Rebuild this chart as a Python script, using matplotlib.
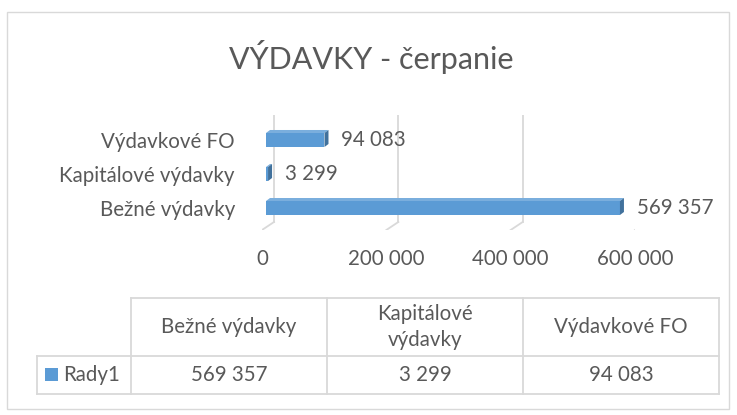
import matplotlib
matplotlib.use("Agg")
import matplotlib.pyplot as plt
from matplotlib.patches import Polygon, Rectangle

plt.rcParams['font.family'] = ['Lato', 'DejaVu Sans']

# ---------------------------
# data
# ---------------------------
title = "VÝDAVKY - čerpanie"
categories = ["Bežné výdavky", "Kapitálové výdavky", "Výdavkové FO"]
table_headers = ["Bežné výdavky", "Kapitálové\nvýdavky", "Výdavkové FO"]
values = [569357, 3299, 94083]
series_name = "Rady1"
xticks = [0, 200000, 400000, 600000]


def fmt(v):
    return f"{v:,}".replace(",", " ")


W, H = 737, 415
fig = plt.figure(figsize=(W / 100, H / 100), dpi=100)
fig.patch.set_facecolor("white")

bar_col = "#5B9BD5"
side_col = "#41719C"
top_col = "#7AAEDD"
text_col = "#595959"
grid_col = "#D9D9D9"
fs = 14.8

# ---------------------------
# bar chart (pseudo 3D, like Excel)
# ---------------------------
ax_l, ax_r, ax_t, ax_b = 262, 635, 115, 230
ax = fig.add_axes([ax_l / W, (H - ax_b) / H, (ax_r - ax_l) / W, (ax_b - ax_t) / H])
xmax = 600000
ppx = xmax / (ax_r - ax_l)          # data units per pixel (x)
ys = list(range(len(categories)))
ylo, yhi = -0.647, 2.735
ax.set_xlim(0, xmax)
ax.set_ylim(ylo, yhi)
ppy = (yhi - ylo) / (ax_b - ax_t)   # data units per pixel (y)

# back wall / floor gridlines
back_dx, back_dy = 12 * ppx, 8 * ppy
for t in xticks:
    ax.plot([t, t + back_dx], [ylo, ylo + back_dy], color=grid_col, lw=1.3, zorder=0)
    ax.plot([t + back_dx, t + back_dx], [ylo + back_dy, yhi], color=grid_col,
            lw=1.3, zorder=0)

bh = 14 * ppy
off = 4 * ppx
dx, dy = 4 * ppx, 3 * ppy
for y, v in zip(ys, values):
    x0, x1 = off, off + v
    ax.add_patch(Rectangle((x0, y - bh / 2), v, bh, facecolor=bar_col,
                           edgecolor="none", zorder=3))
    ax.add_patch(Polygon([(x0, y + bh / 2), (x1, y + bh / 2),
                          (x1 + dx, y + bh / 2 + dy), (x0 + dx, y + bh / 2 + dy)],
                         closed=True, facecolor=top_col, edgecolor="none", zorder=3))
    ax.add_patch(Polygon([(x1, y - bh / 2), (x1 + dx, y - bh / 2 + dy),
                          (x1 + dx, y + bh / 2 + dy), (x1, y + bh / 2)],
                         closed=True, facecolor=side_col, edgecolor="none", zorder=3))
    ax.text(x1 + 17 * ppx, y, fmt(v), va="center", ha="left",
            fontsize=fs, color=text_col)

ax.set_yticks(ys)
ax.set_yticklabels(categories, fontsize=fs, color=text_col)
ax.set_xticks(xticks)
ax.set_xticklabels([fmt(t) for t in xticks], fontsize=fs, color=text_col)
ax.tick_params(axis="both", length=0)
ax.tick_params(axis="x", pad=14)
ax.tick_params(axis="y", pad=19.5)
for s in ax.spines.values():
    s.set_visible(False)

# ---------------------------
# overlay: frame, title, data table
# ---------------------------
ov = fig.add_axes([0, 0, 1, 1], zorder=-1)
ov.set_xlim(0, W)
ov.set_ylim(H, 0)
ov.axis("off")

ov.add_patch(Rectangle((7, 12), 722, 397, facecolor="none",
                       edgecolor="#D9D9D9", linewidth=1))

ov.text(371, 57, title, ha="center", va="center", fontsize=22, color=text_col)

col_x = [37, 131, 327, 523, 719]
row_y = [298, 356, 394]
lc = "#D9D9D9"
lw = 1.3
ov.plot([col_x[1], col_x[-1]], [row_y[0], row_y[0]], color=lc, lw=lw)
ov.plot([col_x[0], col_x[-1]], [row_y[1], row_y[1]], color=lc, lw=lw)
ov.plot([col_x[0], col_x[-1]], [row_y[2], row_y[2]], color=lc, lw=lw)
ov.plot([col_x[0], col_x[0]], [row_y[1], row_y[2]], color=lc, lw=lw)
for x in col_x[1:]:
    ov.plot([x, x], [row_y[0], row_y[2]], color=lc, lw=lw)

for i, (hdr, v) in enumerate(zip(table_headers, values)):
    cx = (col_x[i + 1] + col_x[i + 2]) / 2
    ov.text(cx, (row_y[0] + row_y[1]) / 2, hdr, ha="center", va="center",
            fontsize=fs, color=text_col, linespacing=1.4)
    ov.text(cx, (row_y[1] + row_y[2]) / 2, fmt(v), ha="center", va="center",
            fontsize=fs, color=text_col)

ov.add_patch(Rectangle((45, 368), 13, 13, facecolor=bar_col, edgecolor="none"))
ov.text(63, (row_y[1] + row_y[2]) / 2, series_name, ha="left", va="center",
        fontsize=fs, color=text_col)

fig.savefig("out.png", dpi=100, facecolor="white")
